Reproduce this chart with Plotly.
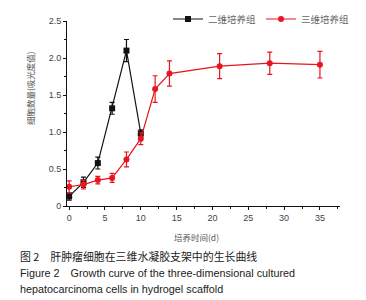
import plotly.graph_objects as go

days_2d = [0, 2, 4, 6, 8, 10]
vals_2d = [0.13, 0.32, 0.58, 1.32, 2.10, 0.98]
err_2d = [0.05, 0.07, 0.08, 0.08, 0.15, 0.05]

days_3d = [0, 2, 4, 6, 8, 10, 12, 14, 21, 28, 35]
vals_3d = [0.26, 0.29, 0.35, 0.38, 0.63, 0.91, 1.58, 1.79, 1.89, 1.93, 1.91]
err_3d = [0.08, 0.06, 0.05, 0.06, 0.10, 0.08, 0.18, 0.17, 0.17, 0.15, 0.18]

name_2d = "二维培养组"
name_3d = "三维培养组"
x_title = "培养时间(d)"
y_title = "细胞数量(吸光度值)"
caption = ["图 2　肝肿瘤细胞在三维水凝胶支架中的生长曲线",
           "Figure 2　Growth curve of the three-dimensional cultured",
           "hepatocarcinoma cells in hydrogel scaffold"]

# page body has an 8px margin; figure is sized to fit the 366x300 window
OFF = 8
W, H = 366 - OFF, 300 - OFF
L, R, T, B = 59, 26, 13, 94
PW, PH = W - L - R, H - T - B


def px(xpage):
    return (xpage - OFF - L) / PW


def py(ypage):
    return (H - B - (ypage - OFF)) / PH


fig = go.Figure()
fig.add_trace(go.Scatter(
    x=days_2d, y=vals_2d, name=name_2d, mode="lines+markers",
    line=dict(color="#111111", width=1.2),
    marker=dict(symbol="square", size=6, color="#111111"),
    error_y=dict(type="data", array=err_2d, color="#111111", thickness=1.2, width=2.5),
))
fig.add_trace(go.Scatter(
    x=days_3d, y=vals_3d, name=name_3d, mode="lines+markers",
    line=dict(color="#e8141e", width=1.2),
    marker=dict(symbol="circle", size=6, color="#e8141e"),
    error_y=dict(type="data", array=err_3d, color="#e8141e", thickness=1.2, width=2.5),
))

font_cn = "Noto Sans CJK SC"
fig.update_layout(
    width=W, height=H,
    margin=dict(l=L, r=R, t=T, b=B, autoexpand=False),
    paper_bgcolor="white", plot_bgcolor="white",
    font=dict(family="Liberation Sans, Arial", color="#333333", size=9),
    showlegend=True,
    legend=dict(orientation="h", x=px(354), xanchor="right", y=py(19), yanchor="middle",
                font=dict(family=font_cn, size=9.5, color="#666666"),
                itemwidth=30, bgcolor="rgba(0,0,0,0)"),
    xaxis=dict(range=[-0.3, 37.8], tickvals=[0, 5, 10, 15, 20, 25, 30, 35], automargin=False,
               showgrid=False, zeroline=False, showline=True, linecolor="#111111", linewidth=1,
               ticks="outside", ticklen=3, tickcolor="#111111",
               minor=dict(dtick=2.5, tick0=0, ticks="outside", ticklen=2, tickcolor="#111111"),
               tickfont=dict(size=9, color="#444444")),
    yaxis=dict(range=[0, 2.5], tickvals=[0, 0.5, 1.0, 1.5, 2.0, 2.5], automargin=False,
               ticktext=["0", "0.5", "1.0", "1.5", "2.0", "2.5"],
               showgrid=False, zeroline=False, showline=True, linecolor="#111111", linewidth=1,
               ticks="outside", ticklen=3, tickcolor="#111111",
               minor=dict(dtick=0.25, tick0=0, ticks="outside", ticklen=2, tickcolor="#111111"),
               tickfont=dict(size=9, color="#444444")),
)

# axis titles
fig.add_annotation(text=x_title, xref="paper", yref="paper", showarrow=False,
                   x=px(196.5), xanchor="center", y=py(236.5), yanchor="middle",
                   font=dict(family=font_cn, size=8.5, color="#555555"))
fig.add_annotation(text=y_title, xref="paper", yref="paper", showarrow=False,
                   x=px(30), xanchor="center", y=py(88), yanchor="middle", textangle=-90,
                   font=dict(family=font_cn, size=8.5, color="#555555"))

ys = [256, 273, 289]
sizes = [10.9, 10.8, 10.8]
fams = [font_cn, "Liberation Sans, Arial", "Liberation Sans, Arial"]
for txt, yy, sz, fm in zip(caption, ys, sizes, fams):
    fig.add_annotation(text=txt, xref="paper", yref="paper", showarrow=False,
                       x=px(18), xanchor="left", y=py(yy), yanchor="middle",
                       font=dict(family=fm, size=sz, color="#222222"))

fig.write_html("out.html")
